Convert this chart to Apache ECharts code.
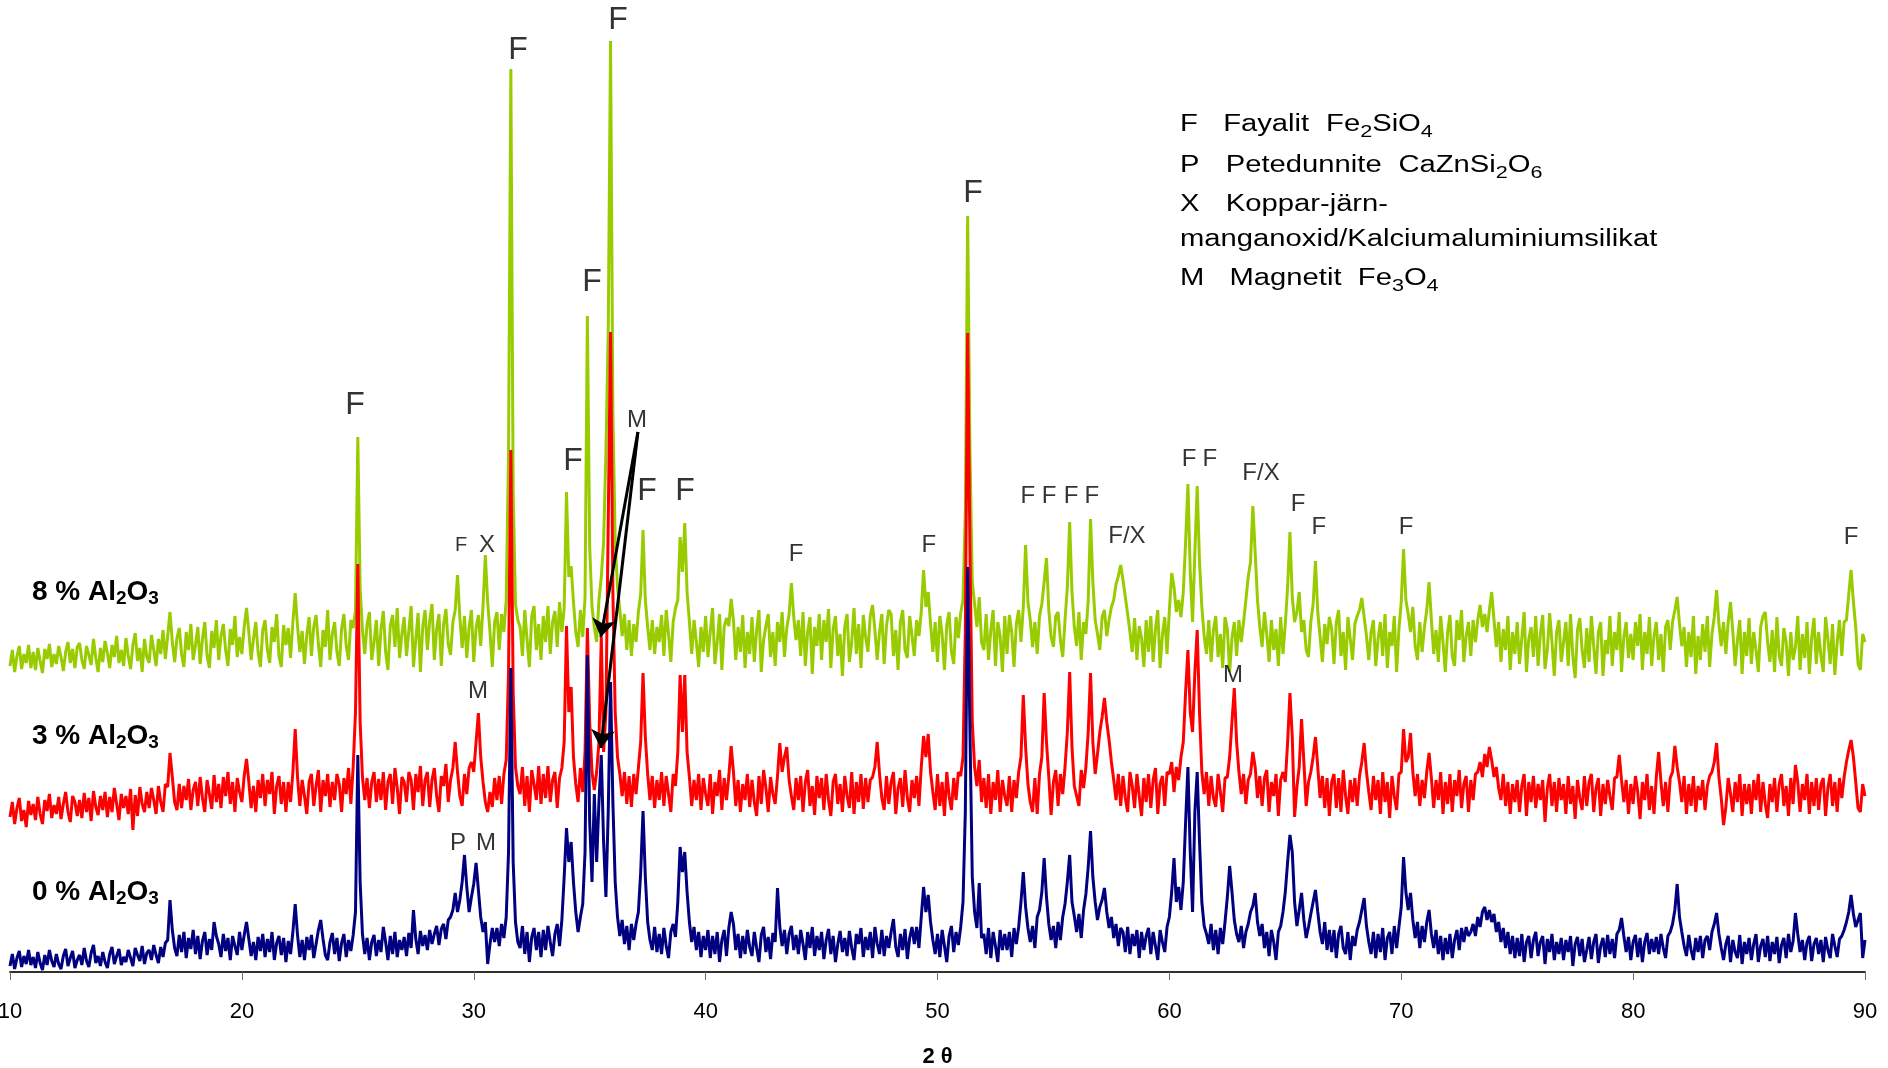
<!DOCTYPE html>
<html><head><meta charset="utf-8">
<script src="https://cdn.jsdelivr.net/npm/echarts@6/dist/echarts.min.js"></script>
<style>html,body{margin:0;padding:0;background:#fff}#c{width:1888px;height:1068px}</style>
</head><body><div id="c"></div>
<script>
// 2θ sampling grid of the diffractograms
const twoThetaStart = 10, twoThetaStep = 0.1;
const xAxisMin = 10, xAxisMax = 90, xAxisInterval = 10;

// intensities (arbitrary, offset-stacked); one row per degree (10 samples)
const green8Rows = [
[306,322,300,316,326,303,318,309,327,304],
[320,302,324,311,299,323,313,328,305,318],
[308,326,315,301,320,330,309,323,304,325],
[329,312,303,326,317,307,333,314,300,324],
[310,331,319,304,327,315,336,309,322,306],
[334,316,303,327,339,311,324,300,333,315],
[309,337,322,306,333,318,342,313,336,360],
[330,310,334,344,318,305,340,322,348,312],
[327,345,308,333,350,316,304,341,324,352],
[312,336,348,322,306,343,327,356,315,335],
[318,345,364,340,312,333,350,320,305,342],
[352,322,309,345,330,358,316,305,347,327],
[344,314,350,379,346,320,341,308,337,355],
[316,345,357,328,305,342,325,362,312,338],
[350,320,306,343,358,326,312,352,344,362],
[535,384,342,318,348,360,312,330,352,306],
[343,361,320,302,346,357,325,364,314,338],
[355,316,341,366,305,332,359,300,345,362],
[322,351,368,312,343,358,306,347,363,328],
[317,350,362,397,355,324,356,314,345,362],
[310,344,357,326,366,417,370,340,305,350],
[360,322,358,340,372,520,903,480,368,352],
[345,316,362,332,305,356,366,322,348,312],
[356,330,366,318,350,361,325,370,340,364],
[480,395,406,370,340,325,362,335,375,656],
[425,365,345,330,372,395,430,520,640,931],
[560,430,385,362,336,358,322,352,316,348],
[330,360,378,442,372,345,322,352,318,345],
[330,357,316,362,338,310,350,364,372,435],
[400,449,380,350,318,352,330,305,345,320],
[356,315,340,364,308,330,358,302,345,354],
[346,373,352,312,345,320,357,304,340,318],
[355,310,342,362,300,332,346,358,315,340],
[306,350,330,360,315,344,358,389,355,332],
[352,316,360,306,340,355,298,345,326,358],
[312,352,330,363,304,343,356,316,338,296],
[345,358,310,330,364,318,348,304,357,335],
[320,356,367,342,312,340,358,308,346,362],
[358,316,342,302,350,362,322,314,356,336],
[316,352,336,360,402,365,380,348,320,350],
[310,356,338,302,347,360,320,308,355,334],
[359,372,460,756,520,390,368,345,375,330],
[322,358,312,342,362,306,350,336,300,356],
[318,357,340,305,348,362,330,365,427,370],
[352,325,350,318,356,368,390,414,362,335],
[325,356,360,332,315,352,385,450,380,345],
[326,360,312,350,338,372,453,390,352,338],
[322,355,362,336,352,365,372,388,396,407],
[392,375,358,340,320,354,312,346,334,305],
[352,320,356,310,343,362,304,337,355,318],
[362,399,385,360,372,355,380,430,488,400],
[350,420,486,410,365,336,318,352,310,342],
[356,315,338,304,355,343,300,334,350,316],
[352,330,350,372,395,410,466,420,372,345],
[325,360,338,310,352,322,343,306,355,318],
[348,385,440,375,350,360,380,340,352,322],
[315,350,368,411,360,335,310,348,328,355],
[343,308,350,362,316,340,302,355,333,312],
[348,356,362,374,355,336,312,340,352,306],
[333,350,316,358,304,340,326,356,300,343],
[370,423,372,358,340,365,326,312,350,320],
[345,362,390,352,318,342,310,356,330,300],
[340,357,315,306,352,332,362,310,336,350],
[316,352,330,352,367,345,358,340,362,380],
[352,325,350,310,343,322,356,302,340,318],
[350,308,334,360,300,333,345,315,356,306],
[338,357,303,322,359,330,296,340,352,310],
[330,350,306,358,316,294,342,354,322,304],
[344,310,356,326,298,340,350,296,332,318],
[356,306,340,322,360,300,335,350,314,338],
[312,350,326,358,302,340,318,355,306,336],
[350,312,338,300,345,352,322,350,362,375],
[348,326,345,305,340,315,356,298,336,312],
[348,320,356,305,338,355,382,348,326,350],
[318,350,370,340,306,332,352,298,340,316],
[354,308,340,322,300,345,356,360,330,310],
[342,300,355,316,306,344,330,296,340,312],
[325,356,302,338,314,350,298,334,354,308],
[340,316,300,355,333,308,348,297,330,352],
[316,350,352,378,402,370,345,308,302,338],
[330]
];
const red3Rows = [
[155,170,148,164,174,151,162,145,171,157],
[168,152,175,158,148,172,161,178,154,167],
[158,175,153,168,180,160,150,176,170,156],
[172,154,179,160,174,151,181,165,157,176],
[162,180,155,175,160,184,168,152,178,164],
[176,158,183,142,177,156,185,168,160,180],
[164,184,172,158,186,170,160,188,185,219],
[195,170,162,188,164,186,172,193,162,182],
[190,166,195,174,160,192,178,163,197,170],
[188,164,195,176,200,168,190,160,194,180],
[170,196,213,190,164,186,160,192,174,198],
[166,192,178,200,158,186,196,168,190,160],
[190,170,200,243,195,166,192,176,158,190],
[198,166,186,202,160,192,176,198,165,190],
[172,198,188,160,194,178,204,168,205,260],
[408,250,195,172,194,164,190,200,170,193],
[172,200,162,190,198,168,204,184,158,195],
[190,170,200,192,162,198,180,206,166,192],
[200,165,192,204,176,160,196,186,208,170],
[192,204,230,200,176,166,198,178,204,210],
[200,230,259,215,190,170,160,180,165,194],
[172,196,168,198,212,300,522,280,205,186],
[178,205,166,196,160,202,188,172,206,168],
[198,174,206,170,192,200,164,194,204,230],
[346,260,285,215,188,170,204,180,220,344],
[250,200,182,200,230,335,220,260,450,640],
[380,260,215,198,176,200,168,196,165,198],
[178,204,230,299,235,198,172,196,164,192],
[172,200,166,196,178,160,198,186,220,297],
[240,297,220,195,166,192,172,198,162,194],
[178,166,198,158,190,176,202,162,194,172],
[196,226,200,166,192,160,188,172,198,165],
[192,170,156,196,168,202,184,160,195,178],
[168,196,229,200,215,225,192,176,162,194],
[172,196,160,190,202,166,186,157,196,174],
[194,162,198,172,156,190,198,168,188,160],
[196,176,164,200,158,190,170,198,163,194],
[170,192,195,205,230,198,174,162,196,168],
[190,200,158,184,194,165,202,174,160,192],
[174,196,166,205,236,215,238,200,180,162],
[198,166,190,156,200,176,162,194,172,200],
[196,215,340,639,420,250,205,186,212,170],
[194,164,198,158,190,172,202,160,192,176],
[166,196,160,192,174,200,215,277,225,188],
[170,160,194,158,198,215,279,230,195,157],
[190,202,166,198,178,205,240,300,225,186],
[176,166,202,184,205,240,299,230,198,218],
[240,255,274,250,232,210,192,172,198,166],
[196,174,160,200,186,164,198,176,156,194],
[170,198,164,192,204,158,188,196,166,200],
[198,210,180,205,192,215,230,280,322,260],
[240,300,342,260,200,178,200,166,196,174],
[165,198,180,160,194,195,215,250,284,230],
[200,178,198,168,192,198,220,205,174,196],
[166,194,202,160,190,176,198,156,192,200],
[190,230,279,235,155,185,205,253,210,166],
[190,200,215,235,205,174,196,164,194,156],
[190,198,164,194,160,202,176,158,192,170],
[194,166,196,210,229,200,180,162,196,172],
[192,158,200,170,190,154,196,176,162,198],
[200,243,210,215,239,200,176,198,166,192],
[174,200,219,194,164,192,172,200,158,190],
[168,198,160,192,176,202,164,188,196,160],
[192,172,198,200,210,195,218,205,225,212],
[195,205,184,172,198,166,190,158,188,170],
[192,160,186,198,156,190,170,196,164,188],
[172,192,150,184,198,166,190,160,194,172],
[188,158,196,168,186,153,192,174,162,196],
[166,190,198,160,184,194,156,188,168,192],
[176,162,194,195,217,192,170,192,158,188],
[168,196,180,153,190,172,198,162,186,158],
[195,220,190,166,190,160,194,200,226,205],
[190,170,196,158,188,166,196,160,186,172],
[192,162,186,196,200,210,229,195,174,147],
[165,194,178,160,190,170,198,156,188,168],
[188,158,192,172,198,160,190,168,154,188],
[170,194,160,188,198,166,186,156,194,168],
[207,190,160,188,172,198,158,190,166,194],
[162,188,194,156,184,198,166,190,160,194],
[174,195,210,222,232,215,190,164,160,188],
[176]
];
const blue0Rows = [
[6,18,3,14,21,5,16,8,22,7],
[15,4,20,9,2,17,7,22,11,5],
[18,8,3,16,23,6,14,21,4,12],
[17,7,24,11,5,19,27,9,16,6],
[20,10,4,18,25,8,16,23,7,15],
[10,22,14,6,24,17,11,26,8,19],
[22,12,27,17,9,25,15,29,32,72],
[42,24,16,37,20,40,14,34,23,42],
[18,36,13,31,40,17,33,22,50,36],
[28,15,38,21,34,12,36,26,17,40],
[22,37,50,33,16,30,12,35,21,38],
[15,33,20,40,12,29,36,17,34,10],
[31,18,40,68,37,15,32,12,35,22],
[37,14,28,42,52,33,17,12,30,39],
[18,34,11,29,38,15,32,21,37,60],
[217,90,38,18,34,12,30,37,16,32],
[20,45,30,12,36,18,40,15,32,22],
[35,16,39,24,62,33,18,41,26,37],
[22,42,28,38,46,27,43,48,33,52],
[55,62,79,60,72,90,117,85,60,75],
[88,109,82,55,40,50,8,28,44,30],
[44,26,48,34,55,120,304,110,50,30],
[24,46,18,40,10,35,44,22,40,15],
[42,22,46,30,16,38,48,26,52,95],
[144,110,130,90,60,40,55,68,120,317],
[150,90,178,110,170,217,130,75,160,290],
[170,90,55,36,52,28,46,22,48,32],
[48,60,100,161,95,50,32,22,45,20],
[38,18,44,26,14,40,48,35,70,125],
[100,120,80,50,30,45,22,40,15,36],
[22,42,14,36,18,40,10,32,42,16],
[44,60,48,22,38,14,36,18,42,25],
[16,40,24,10,37,45,20,35,13,39],
[30,84,45,26,42,18,38,46,22,37],
[18,42,28,12,40,24,45,16,36,22],
[40,13,32,43,18,36,10,28,41,20],
[34,16,41,24,12,38,28,44,15,35],
[22,40,14,45,28,18,42,16,36,24],
[40,53,25,15,38,22,43,13,34,45],
[28,45,24,55,85,60,77,50,32,18],
[38,15,42,26,10,36,46,20,40,27],
[45,70,160,405,240,95,60,44,89,34],
[38,18,44,14,40,26,10,42,22,38],
[22,40,15,44,28,45,70,100,65,44],
[30,46,24,55,62,80,114,75,48,32],
[46,24,50,32,55,68,90,117,70,56],
[40,58,34,62,78,105,141,95,70,52],
[65,72,84,60,44,55,34,48,26,44],
[40,20,45,18,38,26,42,14,40,22],
[36,44,18,40,26,12,42,30,20,45],
[55,80,114,70,85,62,90,150,205,120],
[60,160,200,130,70,46,38,28,48,22],
[42,18,44,28,50,75,106,80,52,38],
[30,46,24,40,48,60,66,79,50,36],
[48,24,40,16,42,30,12,40,46,60],
[80,110,137,120,70,46,62,79,52,34],
[45,58,70,82,60,40,28,50,22,42],
[20,42,14,38,46,24,18,40,12,36],
[26,42,50,62,74,46,30,18,40,14],
[38,20,44,12,34,40,18,46,24,45],
[65,115,80,62,79,52,34,50,24,46],
[30,50,62,38,24,42,18,36,12,34],
[18,38,14,32,42,22,44,30,45,36],
[40,48,36,55,45,60,65,52,62,50],
[58,40,50,30,44,24,40,18,36,14],
[34,16,38,10,30,36,14,32,40,16],
[30,36,8,33,20,38,12,30,18,34],
[12,32,20,36,6,28,35,16,33,10],
[22,35,13,30,38,9,26,34,15,37],
[18,33,14,38,42,54,36,20,35,12],
[30,37,15,34,10,30,39,18,33,20],
[35,18,38,24,14,36,40,48,62,88],
[55,40,26,16,37,22,12,34,20,36],
[14,32,36,22,40,48,59,38,24,12],
[28,36,10,32,20,14,37,8,30,18],
[34,12,28,38,10,26,33,15,36,11],
[30,18,35,9,27,34,14,38,20,31],
[59,38,20,32,12,30,36,11,28,34],
[18,32,10,35,22,14,38,26,15,33],
[36,42,50,60,77,58,45,52,59,14],
[32]
];

// peak annotations: [2θ, height, text]
const peakLabelsLarge = [[24.88,567,'F'],[31.91,922,'F'],[36.22,952,'F'],[35.1,690,'F'],[34.28,511,'F'],[37.47,481,'F'],[39.11,481,'F'],[51.53,779,'F']];
const peakLabelsMedium = [[37.04,552,'M'],[43.9,418,'F'],[49.63,427,'F'],[53.9,476,'F'],[54.81,476,'F'],[55.76,476,'F'],[56.66,476,'F'],[58.17,436,'F/X'],[60.85,513,'F'],[61.75,513,'F'],[63.95,499,'F/X'],[65.55,468,'F'],[66.45,445,'F'],[70.21,445,'F'],[89.4,435,'F'],[30.18,281,'M'],[62.74,297,'M'],[29.32,129,'P'],[30.53,129,'M'],[30.57,427,'X']];
const peakLabelsSmall = [[29.45,427,'F']];
// magnetite arrows: [from 2θ, from height, to 2θ, to height]
const arrows = [[37.08,540,35.48,335],[37.08,540,35.48,224]];

function toSeries(rows){
  const flat = [].concat(...rows);
  return flat.map((v,i)=>[Math.round((twoThetaStart + i*twoThetaStep)*10)/10, v]);
}
const FONT = '"Liberation Sans", Arial, sans-serif';

function labelSeries(list, size){
  return {
    type:'scatter', data: list.map(l=>[l[0],l[1],l[2]]), symbolSize:1, silent:true, z:10,
    itemStyle:{color:'transparent'},
    label:{show:true, position:'inside', formatter:p=>p.data[2], fontSize:size, color:'#000', fontFamily:FONT}
  };
}
function lineSeries(name, rows, color){
  return {type:'line', name, data:toSeries(rows), showSymbol:false, symbol:'none', silent:true,
    lineStyle:{color, width:3}, itemStyle:{color}};
}

const blue = lineSeries('0 % Al2O3', blue0Rows, '#000080');
blue.markLine = {
  silent:true, animation:false, symbol:['none','arrow'], symbolSize:18,
  label:{show:false}, lineStyle:{color:'#000', width:3, type:'solid'},
  emphasis:{disabled:true},
  data: arrows.map(a=>[{coord:[a[0],a[1]]},{coord:[a[2],a[3]]}])
};

const subRich = (main, sub, shift, weight) => ({
  n:{fontSize:main, fontWeight:weight, fontFamily:FONT, fill:'#000', color:'#000'},
  s:{fontSize:sub, fontWeight:weight, fontFamily:FONT, fill:'#000', color:'#000', padding:[shift,0,0,0]}
});
function txt(x, y, text, rich, extra){
  return Object.assign({type:'text', x, y, silent:true,
    style:{text, rich, fill:'#000', verticalAlign:'middle', align:'left', font:'23px '+FONT}}, extra||{});
}
const legRich = subRich(23, 17, 14, 'normal');
const serRich = subRich(28, 19, 14, 'bold');

const chart = echarts.init(document.getElementById('c'));
chart.setOption({
  animation:false,
  backgroundColor:'#fff',
  grid:{left:10, right:23, top:0, bottom:96, containLabel:false, outerBoundsMode:'none'},
  xAxis:{type:'value', min:xAxisMin, max:xAxisMax, interval:xAxisInterval,
    name:'2 θ', nameLocation:'middle', nameGap:74,
    nameTextStyle:{fontSize:22, fontWeight:'bold', color:'#000', fontFamily:FONT},
    axisLine:{show:true, lineStyle:{color:'#303030', width:2}},
    axisTick:{show:true, length:8, lineStyle:{color:'#707070', width:1}},
    axisLabel:{fontSize:22, color:'#000', margin:29, fontFamily:FONT},
    splitLine:{show:false}},
  yAxis:{type:'value', min:0, max:972, show:false},
  series:[
    lineSeries('8 % Al2O3', green8Rows, '#99CC00'),
    lineSeries('3 % Al2O3', red3Rows, '#FF0000'),
    blue,
    labelSeries(peakLabelsLarge, 32),
    labelSeries(peakLabelsMedium, 24),
    labelSeries(peakLabelsSmall, 20)
  ],
  graphic:[
    txt(32, 592, '{n|8 % Al}{s|2}{n|O}{s|3}', serRich),
    txt(32, 736, '{n|3 % Al}{s|2}{n|O}{s|3}', serRich),
    txt(32, 892, '{n|0 % Al}{s|2}{n|O}{s|3}', serRich),
    {type:'group', x:1180, y:0, scaleX:1.27, silent:true, children:[
      txt(0, 125, '{n|F}', legRich), txt(34, 125, '{n|Fayalit}', legRich), txt(115, 125, '{n|Fe}{s|2}{n|SiO}{s|4}', legRich),
      txt(0, 166, '{n|P}', legRich), txt(36, 166, '{n|Petedunnite}', legRich), txt(172, 166, '{n|CaZnSi}{s|2}{n|O}{s|6}', legRich),
      txt(0, 205, '{n|X}', legRich), txt(36, 205, '{n|Koppar-järn-}', legRich),
      txt(0, 240, '{n|manganoxid/Kalciumaluminiumsilikat}', legRich),
      txt(0, 279, '{n|M}', legRich), txt(39, 279, '{n|Magnetit}', legRich), txt(140, 279, '{n|Fe}{s|3}{n|O}{s|4}', legRich)
    ]}
  ]
});
</script></body></html>
